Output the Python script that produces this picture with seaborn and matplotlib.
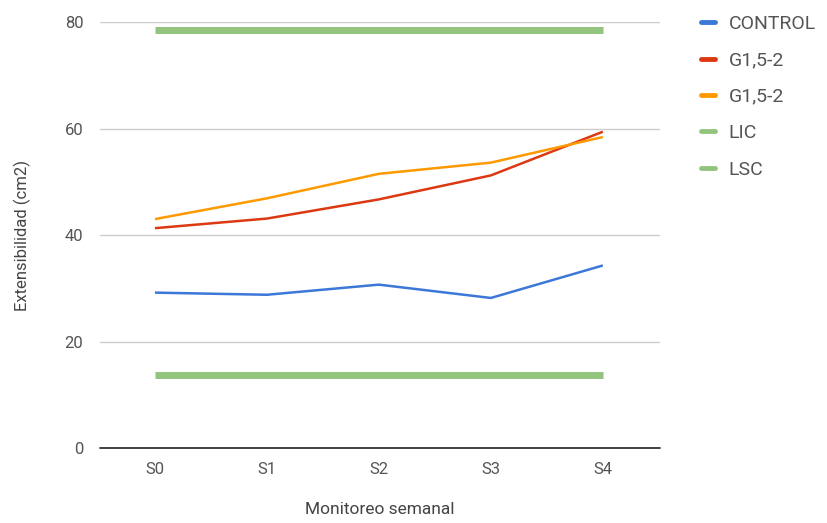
import matplotlib
matplotlib.use("Agg")
import matplotlib.pyplot as plt
import seaborn as sns
import pandas as pd
from matplotlib.lines import Line2D

# data
semanas = ["S0", "S1", "S2", "S3", "S4"]
control = [29.2, 28.8, 30.7, 28.2, 34.3]
g_rojo = [41.3, 43.1, 46.7, 51.2, 59.4]
g_naranja = [43.0, 46.9, 51.5, 53.6, 58.4]
lic = [78.5, 78.5, 78.5, 78.5, 78.5]
lsc = [13.8, 13.8, 13.8, 13.8, 13.8]

series = [("CONTROL", control, "#3c78d8", 1.8),
          ("G1,5-2 ", g_rojo, "#dc3912", 1.8),
          ("G1,5-2", g_naranja, "#ff9900", 1.8),
          ("LIC", lic, "#93c47d", 5),
          ("LSC", lsc, "#93c47d", 5)]

sns.set_style("white")
plt.rcParams['font.family'] = ['Roboto', 'DejaVu Sans']

fig = plt.figure(figsize=(8.27, 5.23), dpi=100)
ax = fig.add_axes([0.121, 0.143, 0.677, 0.815])

x = list(range(len(semanas)))
for nombre, vals, color, lw in series:
    df = pd.DataFrame({"x": x, "y": vals})
    sns.lineplot(data=df, x="x", y="y", color=color, linewidth=lw, ax=ax,
                 solid_capstyle="butt")

ax.set_xlim(-0.49, 4.51)
ax.set_ylim(0, 80)
ax.set_yticks([0, 20, 40, 60, 80])
ax.set_xticks(x)
ax.set_xticklabels(semanas)
ax.grid(axis="y", color="#cccccc", linewidth=1)
ax.set_axisbelow(True)
ax.axhline(0, color="#333333", linewidth=1.3, zorder=3, clip_on=False)
for s in ax.spines.values():
    s.set_visible(False)
ax.tick_params(axis="both", length=0, labelsize=12, colors="#555555")
ax.tick_params(axis="y", pad=12)
ax.tick_params(axis="x", pad=10)
ax.set_xlabel("Monitoreo semanal", fontsize=12.5, color="#444444", labelpad=18)
ax.set_ylabel("Extensibilidad (cm2)", fontsize=12, color="#444444", labelpad=24)

handles = [Line2D([0], [0], color=c, linewidth=3.5, solid_capstyle="round")
           for _, _, c, _ in series]
labels = [n.strip() for n, _, _, _ in series]
fig.legend(handles, labels, loc="upper left", bbox_to_anchor=(0.826, 1.005),
           frameon=False, fontsize=14, handlelength=0.75, handletextpad=0.7,
           labelspacing=0.95, labelcolor="#555555")

fig.savefig("out.png", dpi=100)
